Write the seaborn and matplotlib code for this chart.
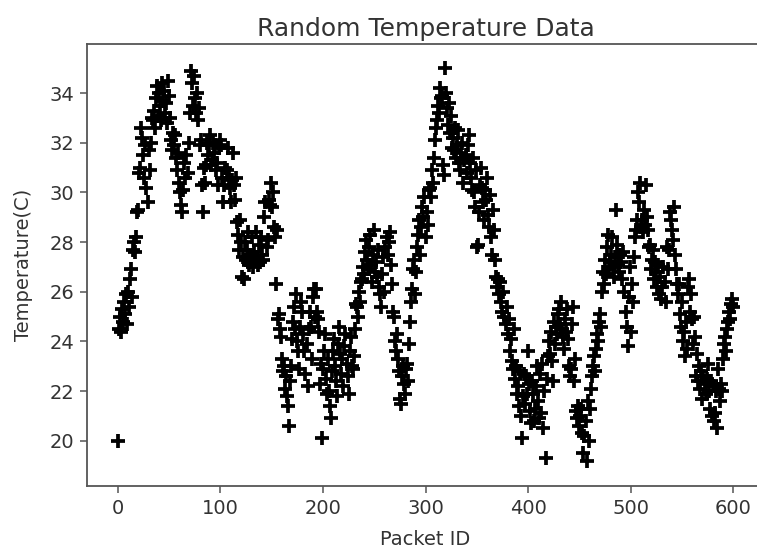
import matplotlib
matplotlib.use("Agg")
import matplotlib.pyplot as plt
import seaborn as sns
import pandas as pd

# ---- data (packet IDs 0..600) ----
temps_000_099 = [
    20.0, 24.5, 25.0, 24.4, 25.3, 24.8, 25.6, 25.1, 25.9, 24.7,
    26.0, 25.4, 26.5, 26.9, 25.8, 27.7, 28.0, 27.6, 28.2, 29.2,
    29.3, 30.8, 31.0, 32.6, 32.2, 31.5, 30.6, 31.9, 30.2, 29.6,
    31.7, 30.9, 32.0, 33.0, 32.9, 33.3, 32.6, 33.8, 34.3, 33.1,
    34.0, 33.5, 32.9, 34.4, 33.7, 34.1, 33.2, 33.6, 32.8, 34.5,
    33.9, 33.0, 32.1, 31.7, 32.4, 31.9, 32.3, 31.4, 30.9, 31.6,
    30.4, 30.0, 29.5, 29.2, 30.1, 31.2, 30.6, 31.5, 30.8, 32.0,
    33.2, 34.9, 34.4, 33.5, 34.7, 33.8, 33.2, 34.0, 32.9, 33.4,
    31.9, 32.1, 30.3, 29.2, 31.0, 30.4, 31.1, 32.0, 31.5, 31.9,
    32.3, 31.1, 31.3, 32.0, 31.6, 31.9, 30.9, 31.2, 30.3, 31.8,
]
temps_100_199 = [
    32.1, 31.9, 30.6, 29.6, 30.3, 31.0, 30.9, 31.8, 30.6, 30.2,
    29.6, 30.5, 31.6, 30.3, 29.7, 30.6, 28.8, 28.3, 27.7, 28.9,
    28.0, 26.6, 27.4, 26.5, 28.0, 27.3, 27.7, 28.4, 27.1, 27.5,
    27.2, 28.2, 27.0, 27.6, 27.3, 28.4, 27.4, 27.1, 27.9, 27.2,
    28.2, 27.5, 27.3, 29.0, 29.6, 27.8, 28.1, 29.7, 29.5, 30.4,
    29.4, 30.0, 28.6, 28.2, 26.3, 28.5, 24.9, 25.1, 24.5, 24.2,
    23.3, 22.8, 23.0, 22.1, 22.6, 21.8, 21.4, 20.6, 22.4, 23.0,
    24.1, 24.8, 25.4, 24.5, 25.9, 24.0, 23.6, 22.9, 24.6, 25.6,
    25.2, 24.3, 23.6, 22.7, 23.9, 22.2, 24.5, 25.2, 24.6, 23.3,
    25.8, 26.1, 25.0, 26.1, 25.2, 24.9, 24.4, 22.3, 23.1, 20.1,
]
temps_200_299 = [
    22.9, 23.6, 24.3, 22.5, 21.9, 23.3, 22.0, 21.4, 20.9, 22.8,
    23.6, 24.1, 23.0, 22.4, 21.8, 23.9, 24.6, 23.5, 22.7, 23.3,
    22.2, 23.8, 24.3, 23.1, 22.6, 21.9, 23.6, 24.2, 23.0, 22.9,
    23.4, 24.5, 25.5, 25.4, 25.0, 26.0, 25.6, 26.4, 26.5, 27.0,
    26.7, 27.6, 28.1, 27.3, 26.9, 27.8, 28.3, 27.1, 26.4, 27.5,
    28.5, 26.8, 27.2, 26.6, 27.7, 26.2, 25.9, 25.4, 26.7, 27.4,
    26.0, 27.8, 28.2, 27.5, 28.0, 28.4, 27.1, 26.3, 25.2, 25.0,
    24.0, 23.6, 24.3, 23.3, 22.8, 21.7, 21.5, 22.6, 23.0, 22.3,
    21.9, 22.9, 23.1, 22.4, 23.9, 24.8, 25.6, 26.1, 26.9, 27.3,
    25.9, 26.8, 27.8, 28.3, 28.9, 27.5, 28.6, 29.4, 29.0, 29.8,
]
temps_300_399 = [
    28.2, 29.2, 28.7, 30.1, 30.2, 29.8, 30.9, 30.4, 31.4, 32.1,
    32.6, 32.9, 33.5, 33.2, 34.2, 33.8, 33.9, 31.1, 30.7, 35.0,
    34.0, 33.4, 32.7, 33.6, 32.4, 33.1, 31.8, 32.2, 31.7, 32.6,
    31.4, 31.9, 32.5, 31.2, 30.9, 31.6, 32.0, 30.4, 31.3, 31.5,
    30.8, 31.9, 32.3, 31.2, 30.6, 30.1, 31.4, 30.0, 29.4, 30.9,
    27.8, 27.9, 29.2, 30.3, 31.0, 30.2, 29.6, 28.9, 30.1, 29.7,
    30.6, 29.1, 28.6, 29.9, 28.2, 27.5, 29.3, 28.5, 27.3, 26.6,
    26.2, 26.5, 25.9, 26.4, 25.6, 25.2, 26.0, 25.0, 24.7, 25.4,
    24.3, 24.9, 23.6, 24.1, 23.2, 22.9, 24.5, 22.5, 23.0, 21.9,
    22.2, 21.4, 22.8, 21.0, 20.1, 21.8, 22.7, 21.5, 22.6, 21.9,
]
temps_400_499 = [
    23.6, 22.3, 21.2, 20.7, 22.4, 21.9, 20.8, 21.3, 22.2, 23.0,
    21.6, 20.9, 22.7, 21.1, 23.1, 20.5, 22.0, 19.3, 22.5, 23.4,
    24.0, 23.5, 24.4, 23.2, 22.4, 24.8, 23.9, 24.6, 24.3, 25.1,
    25.3, 24.7, 25.6, 24.5, 24.2, 23.7, 24.9, 24.4, 25.3, 24.1,
    23.0, 22.6, 22.9, 24.7, 25.4, 22.4, 23.3, 21.2, 20.9, 21.4,
    20.6, 21.0, 21.3, 20.3, 19.5, 20.2, 20.8, 19.2, 21.6, 20.0,
    21.3, 22.1, 22.6, 23.0, 23.4, 22.8, 23.7, 24.3, 24.0, 24.8,
    25.1, 24.6, 26.0, 26.8, 26.3, 27.3, 26.7, 27.8, 28.3, 26.9,
    27.2, 27.5, 28.2, 27.0, 26.6, 27.4, 29.3, 27.9, 27.1, 26.8,
    27.5, 27.2, 26.5, 27.6, 26.0, 25.2, 24.6, 23.8, 25.8, 27.0,
]
temps_500_600 = [
    24.4, 26.3, 25.6, 27.4, 28.2, 28.5, 28.9, 30.0, 29.6, 30.4,
    28.6, 28.9, 28.4, 29.3, 28.7, 30.3, 29.0, 28.5, 27.8, 27.9,
    26.9, 27.3, 27.7, 26.5, 27.2, 26.8, 26.2, 27.1, 25.9, 26.6,
    25.7, 26.2, 27.0, 26.4, 25.6, 27.8, 26.9, 27.7, 29.2, 28.9,
    28.5, 28.1, 29.4, 27.5, 26.9, 26.3, 25.9, 26.3, 25.1, 24.6,
    25.6, 24.0, 24.4, 23.4, 24.8, 23.7, 26.2, 26.5, 25.2, 25.9,
    24.9, 23.9, 25.0, 24.2, 22.6, 23.5, 22.4, 23.0, 22.1, 22.8,
    21.7, 22.6, 22.3, 21.9, 22.5, 23.1, 22.0, 21.3, 22.4, 21.0,
    22.2, 20.8, 21.1, 22.0, 20.5, 22.9, 22.1, 21.6, 22.3, 22.0,
    23.3, 23.9, 24.2, 23.6, 24.5, 24.8, 25.2, 24.9, 25.5, 25.7,
    25.4,
]

temperature = (temps_000_099 + temps_100_199 + temps_200_299
               + temps_300_399 + temps_400_499 + temps_500_600)
packet_id = list(range(len(temperature)))

x_ticks = [0, 100, 200, 300, 400, 500, 600]
y_ticks = [20, 22, 24, 26, 28, 30, 32, 34]

df = pd.DataFrame({"Packet ID": packet_id, "Temperature(C)": temperature})

# ---- figure ----
sns.set_style("white")
plt.rcParams["font.family"] = ["DejaVu Sans"]
text_col = "#333333"
spine_col = "#555555"

W, H = 757, 551
fig = plt.figure(figsize=(W / 100, H / 100), dpi=100)
left, right, top, bottom = 87, 764, 44, 486
ax = fig.add_axes([left / W, 1 - bottom / H, (right - left) / W, (bottom - top) / H])

sns.scatterplot(data=df, x="Packet ID", y="Temperature(C)", ax=ax,
                marker="+", color="black", s=90, linewidth=2.7, legend=False)

ax.set_xlim(-30, 630)
ax.set_ylim(18.18, 35.98)
ax.set_xticks(x_ticks)
ax.set_yticks(y_ticks)
ax.tick_params(axis="both", which="major", bottom=True, left=True,
               direction="out", length=5, width=1.1,
               color=spine_col, labelsize=14, labelcolor=text_col, pad=4)
for sp in ax.spines.values():
    sp.set_visible(True)
    sp.set_color(spine_col)
    sp.set_linewidth(1.3)

ax.set_title("Random Temperature Data", fontsize=18, color=text_col, pad=6)
ax.set_xlabel("Packet ID", fontsize=14, color=text_col, labelpad=9)
ax.set_ylabel("Temperature(C)", fontsize=14, color=text_col, labelpad=12)

fig.savefig("out.png", dpi=100)
